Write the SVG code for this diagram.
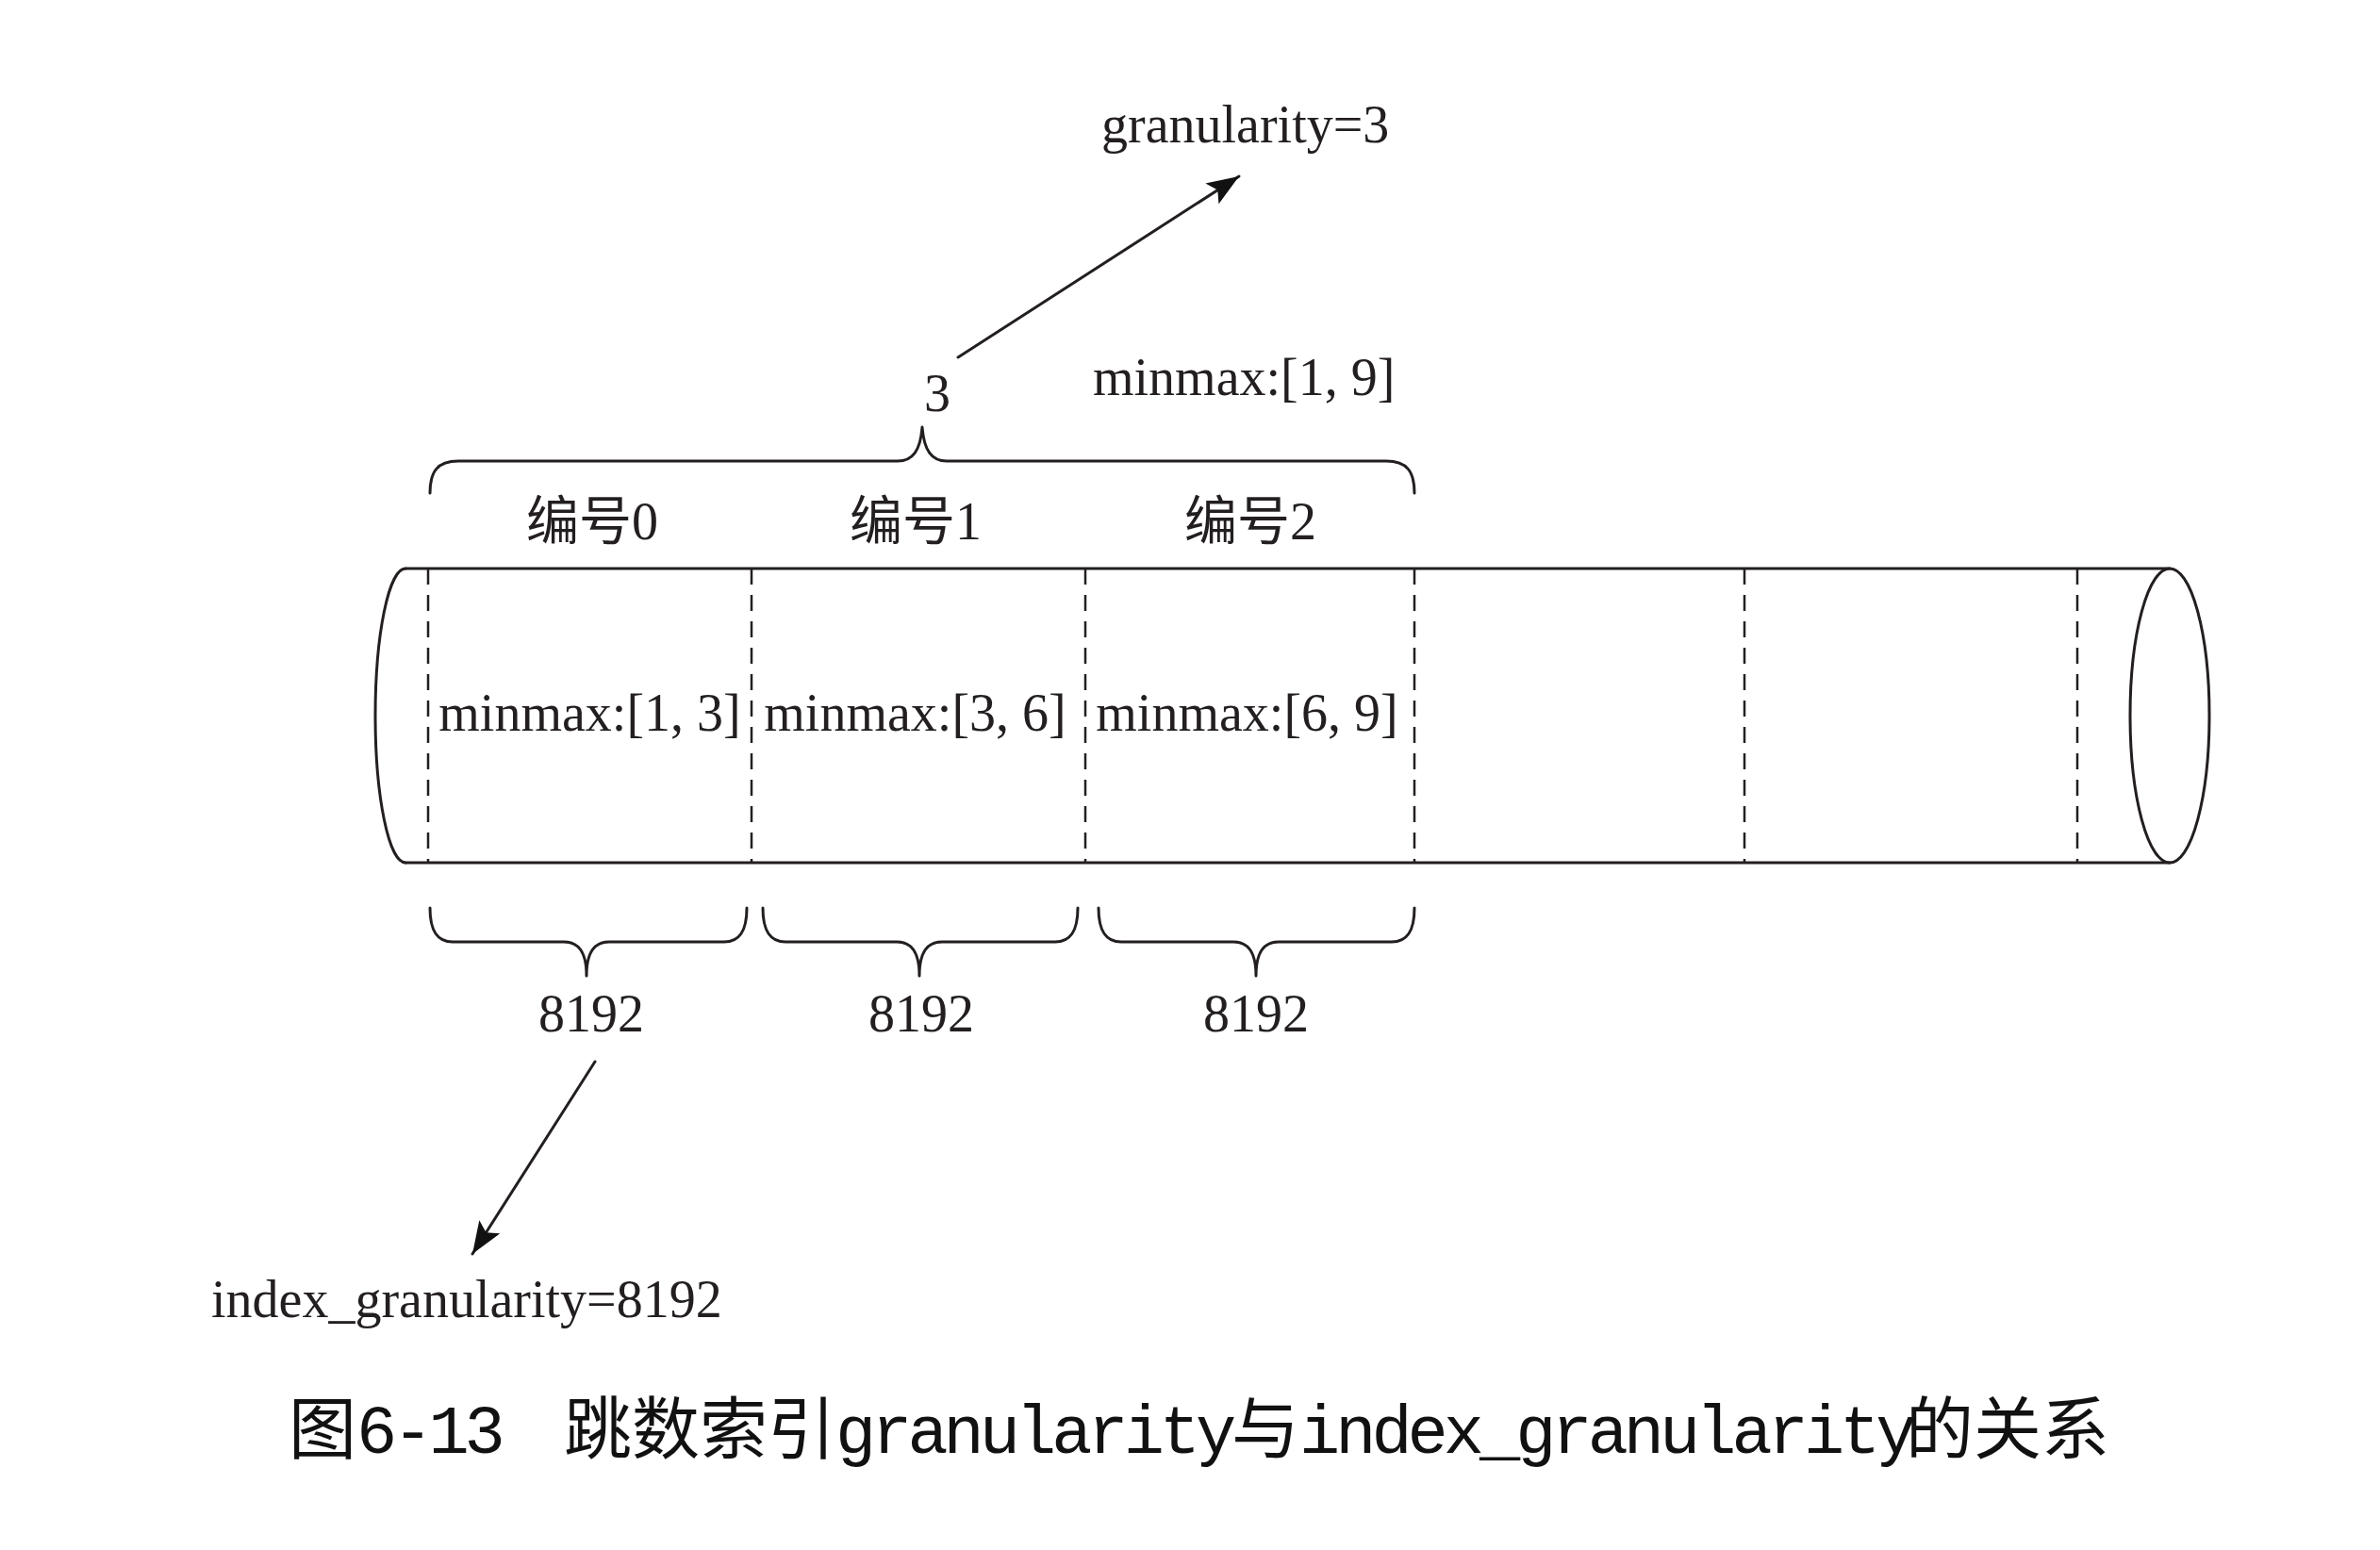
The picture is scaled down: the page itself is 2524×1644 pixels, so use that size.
<svg xmlns="http://www.w3.org/2000/svg" width="2524" height="1644" viewBox="0 0 2524 1644">
<style>
.ln{fill:none;stroke:#231f20;stroke-width:3;stroke-linecap:round;stroke-linejoin:round}
.dash{fill:none;stroke:#231f20;stroke-width:2.5;stroke-dasharray:17 11}
.t{font-family:"Liberation Serif","Noto Sans CJK SC",serif;font-size:56px;fill:#231f20}
.cap{font-family:"Noto Sans CJK SC",sans-serif;font-size:72px;fill:#111}
.m{font-family:"Liberation Mono","Noto Sans CJK SC",monospace;letter-spacing:-5px}
</style>
<defs>
<marker id="arr" viewBox="0 0 34 26" refX="34" refY="13" markerWidth="34" markerHeight="26" markerUnits="userSpaceOnUse" orient="auto">
<path d="M0,0 L34,13 L0,26 L7,13 Z" fill="#111"/>
</marker>
</defs>
<rect width="2524" height="1644" fill="#fff"/>

<g id="cylinder">
<path class="ln" d="M430,603 L2301,603 M430,915 L2301,915"/>
<path class="ln" d="M430,603 A32,156 0 0 0 430,915"/>
<ellipse class="ln" cx="2301" cy="759" rx="42" ry="156"/>
<line class="dash" x1="454" y1="603" x2="454" y2="915"/>
<line class="dash" x1="797" y1="603" x2="797" y2="915"/>
<line class="dash" x1="1151" y1="603" x2="1151" y2="915"/>
<line class="dash" x1="1500" y1="603" x2="1500" y2="915"/>
<line class="dash" x1="1850" y1="603" x2="1850" y2="915"/>
<line class="dash" x1="2203" y1="603" x2="2203" y2="915"/>
</g>

<g id="granule0">
<text class="t" x="628" y="572" text-anchor="middle">编号0</text>
<text class="t" x="625.5" y="775" text-anchor="middle">minmax:[1, 3]</text>
</g>
<g id="granule1">
<text class="t" x="971" y="572" text-anchor="middle">编号1</text>
<text class="t" x="970.5" y="775" text-anchor="middle">minmax:[3, 6]</text>
</g>
<g id="granule2">
<text class="t" x="1326" y="572" text-anchor="middle">编号2</text>
<text class="t" x="1322.5" y="775" text-anchor="middle">minmax:[6, 9]</text>
</g>

<g id="top-brace">
<path class="ln" d="M456,523 C456,500 464,489 486,489 L952,489 C968,489 976,478 978,453 C980,478 988,489 1004,489 L1470,489 C1492,489 1500,500 1500,523"/>
<text class="t" x="994" y="436" text-anchor="middle">3</text>
<text class="t" x="1159" y="419">minmax:[1, 9]</text>
</g>

<g id="granularity-label">
<text class="t" x="1168" y="151">granularity=3</text>
</g>

<g id="bottom-braces">
<path class="ln" d="M456,963 C456,988 464,999 480,999 L598,999 C614,999 622,1010 622,1035 C622,1010 630,999 646,999 L768,999 C784,999 792,988 792,963"/>
<path class="ln" d="M809,963 C809,988 817,999 833,999 L951,999 C967,999 975,1010 975,1035 C975,1010 983,999 999,999 L1119,999 C1135,999 1143,988 1143,963"/>
<path class="ln" d="M1165,963 C1165,988 1173,999 1189,999 L1308,999 C1324,999 1332,1010 1332,1035 C1332,1010 1340,999 1356,999 L1476,999 C1492,999 1500,988 1500,963"/>
<text class="t" x="627" y="1094" text-anchor="middle">8192</text>
<text class="t" x="977" y="1094" text-anchor="middle">8192</text>
<text class="t" x="1332" y="1094" text-anchor="middle">8192</text>
</g>

<g id="index-granularity-label">
<text class="t" x="224" y="1397">index_granularity=8192</text>
</g>

<g id="connectors">
<line class="ln" x1="1016" y1="379" x2="1314" y2="187" marker-end="url(#arr)"/>
<line class="ln" x1="631" y1="1126" x2="501" y2="1330" marker-end="url(#arr)"/>
</g>

<g id="caption">
<text class="cap" y="1541"><tspan x="306">图</tspan><tspan class="m" x="378">6-13</tspan><tspan x="598">跳数索引</tspan><tspan class="m" x="886">granularity</tspan><tspan x="1306">与</tspan><tspan class="m" x="1378">index_granularity</tspan><tspan x="2021">的关系</tspan></text>
</g>
</svg>
